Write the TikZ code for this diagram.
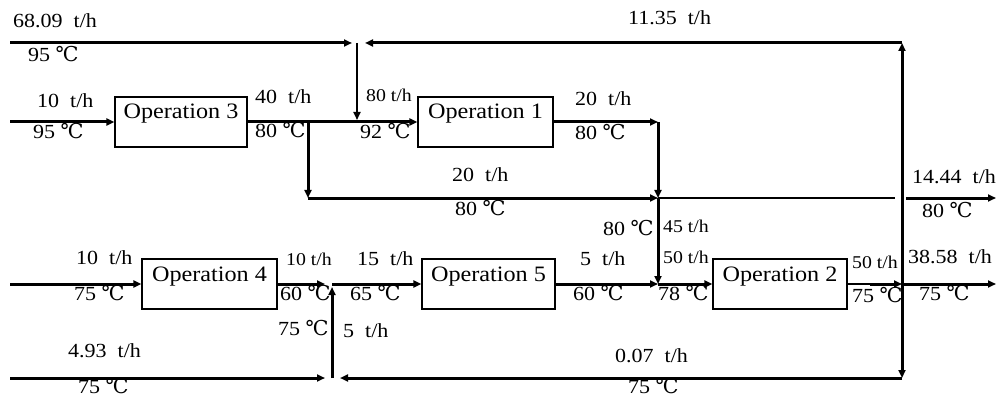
\documentclass[tikz,border=0pt]{standalone}
\usepackage{fontspec}
\setmainfont{Liberation Serif}[FakeStretch=1.1]
\newfontfamily\degfont{DejaVu Serif}
\usetikzlibrary{arrows.meta}
\newcommand\tph{\hspace{0.55em}t/h}
\newcommand\dC{{\degfont\fontsize{20.5}{20}\selectfont ℃}}
\begin{document}
\begin{tikzpicture}[x=1pt,y=-1pt,
  flow/.style={line width=3pt},
  thinflow/.style={line width=1.2pt},
  midflow/.style={line width=1.8pt},
  tip/.style={-{Triangle[length=8pt,width=7pt]}},
  opbox/.style={draw,line width=1.3pt,inner sep=0pt,minimum height=50pt,
    text height=22pt,text depth=28pt,font=\fontsize{22}{22}\selectfont},
  lab/.style={anchor=base west,inner sep=0pt,font=\fontsize{20}{20}\selectfont},
  slab/.style={anchor=base west,inner sep=0pt,font=\fontsize{18}{18}\selectfont}]
\useasboundingbox (0,0) rectangle (1003,398);
% boxes
\node[opbox,minimum width=132pt] (op3) at (181,122) {Operation 3};
\node[opbox,minimum width=135pt] (op1) at (485.5,122) {Operation 1};
\node[opbox,minimum width=135pt] (op4) at (209.5,284) {Operation 4};
\node[opbox,minimum width=133pt] (op5) at (488.5,284) {Operation 5};
\node[opbox,minimum width=134pt] (op2) at (780,284) {Operation 2};
% coordinates
\coordinate (a0) at (10,43);
\coordinate (a1) at (357,43);
\coordinate (a1e) at (352,43);
\coordinate (a1w) at (365,43);
\coordinate (a1d) at (357,120);
\coordinate (ar) at (902,43);
\coordinate (in3) at (10,122);
\coordinate (s3) at (308,122);
\coordinate (b3) at (308,198);
\coordinate (m1) at (658,122);
\coordinate (m2) at (658,198);
\coordinate (m3) at (658,284);
\coordinate (t1) at (895,198);
\coordinate (t2) at (906,198);
\coordinate (t3) at (996,198);
\coordinate (o2a) at (870,284);
\coordinate (r2) at (902,284);
\coordinate (o2b) at (996,284);
\coordinate (rb) at (902,378);
\coordinate (jbw) at (340,378);
\coordinate (jb) at (332,378);
\coordinate (jbe) at (325,378);
\coordinate (in5) at (10,378);
\coordinate (in4) at (10,284);
\coordinate (j4) at (332,284);
\coordinate (j4w) at (325,284);
\coordinate (j4d) at (332,287);
% connectors
\draw[flow,tip] (a0) -- (a1e);
\draw[flow,tip] (ar) -- (a1w);
\draw[midflow,tip] (a1) -- (a1d);
\draw[flow,tip] (in3) -- (op3.west);
\draw[flow,tip] (op3.east) -- (op1.west);
\draw[flow,tip] (s3) -- (b3);
\draw[flow,tip] (b3) -- (m2);
\draw[flow,tip] (op1.east) -- (m1);
\draw[flow,tip] (m1) -- (m2);
\draw[flow,tip] (m2) -- (m3);
\draw[thinflow] (m2) -- (t1);
\draw[flow,tip] (t2) -- (t3);
\draw[flow,tip] (op5.east) -- (m3);
\draw[flow,tip] (m3) -- (op2.west);
\draw[thinflow] (op2.east) -- (o2a);
\draw[flow,tip] (o2a) -- (r2);
\draw[flow,tip] (r2) -- (o2b);
\draw[flow,tip] (r2) -- (ar);
\draw[flow,tip] (r2) -- (rb);
\draw[flow,tip] (rb) -- (jbw);
\draw[flow,tip] (in5) -- (jbe);
\draw[flow,tip] (jb) -- (j4d);
\draw[flow,tip] (in4) -- (op4.west);
\draw[flow,tip] (op4.east) -- (j4w);
\draw[flow,tip] (j4) -- (op5.west);
% labels
\node[lab] (l1) at (13,28) {68.09\tph};
\node[lab] (l2) at (28,62) {95 \dC};
\node[lab] (l3) at (628,25) {11.35\tph};
\node[lab] (l4) at (37,108) {10\tph};
\node[lab] (l5) at (33,139) {95 \dC};
\node[lab] (l6) at (255,104) {40\tph};
\node[lab] (l7) at (255,138) {80 \dC};
\node[slab] (l8) at (366,102) {80 t/h};
\node[lab] (l9) at (360,139) {92 \dC};
\node[lab] (l10) at (575,106) {20\tph};
\node[lab] (l11) at (575,140) {80 \dC};
\node[lab] (l12) at (452,182) {20\tph};
\node[lab] (l13) at (455,215) {80 \dC};
\node[lab] (l14) at (912,183) {14.44\tph};
\node[lab] (l15) at (922,217) {80 \dC};
\node[lab] (l16) at (603,235) {80 \dC};
\node[slab] (l17) at (663,232) {45 t/h};
\node[lab] (l18) at (76,264) {10\tph};
\node[lab] (l19) at (74,300) {75 \dC};
\node[slab] (l20) at (286,265) {10 t/h};
\node[lab] (l21) at (280,300) {60 \dC};
\node[lab] (l22) at (357,265) {15\tph};
\node[lab] (l23) at (350,300) {65 \dC};
\node[lab] (l24) at (580,265) {5\tph};
\node[lab] (l25) at (573,300) {60 \dC};
\node[slab] (l26) at (663,263) {50 t/h};
\node[lab] (l27) at (658,300) {78 \dC};
\node[slab] (l28) at (852,268) {50 t/h};
\node[lab] (l29) at (852,302) {75 \dC};
\node[lab] (l30) at (908,263) {38.58\tph};
\node[lab] (l31) at (919,300) {75 \dC};
\node[lab] (l32) at (278,335) {75 \dC};
\node[lab] (l33) at (343,337) {5\tph};
\node[lab] (l34) at (68,357) {4.93\tph};
\node[lab] (l35) at (78,393) {75 \dC};
\node[lab] (l36) at (615,362) {0.07\tph};
\node[lab] (l37) at (628,393) {75 \dC};
\end{tikzpicture}
\end{document}
